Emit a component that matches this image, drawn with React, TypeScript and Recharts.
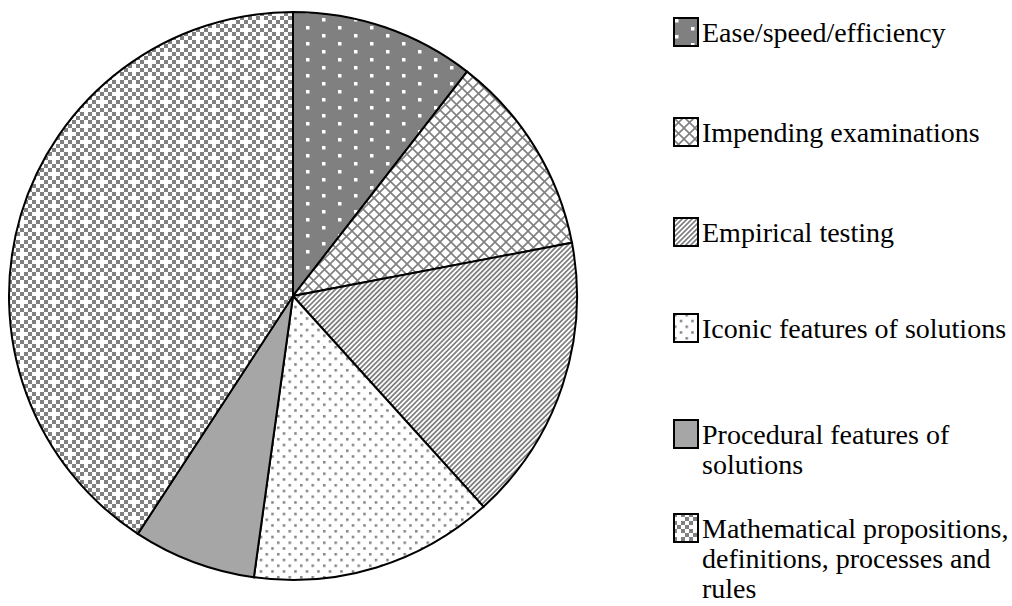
import { PieChart, Pie, Cell } from 'recharts';

const categories = [
  'Ease/speed/efficiency',
  'Impending examinations',
  'Empirical testing',
  'Iconic features of solutions',
  'Procedural features of solutions',
  'Mathematical propositions, definitions, processes and rules',
];
const shares = [10.5, 11.5, 16.3, 13.9, 7.0, 40.8];
const fills = ['url(#pEase)', 'url(#pExam)', 'url(#pEmp)', 'url(#pIcon)', '#a6a6a6', 'url(#pMath)'];

const data = categories.map((name, i) => ({ name, value: shares[i] }));

// legend square tops (px)
const legendTops = [17, 117, 217, 313, 419, 513];

const GRAY = '#808080';

function Patterns() {
  const checker: JSX.Element[] = [];
  for (let i = 0; i < 8; i++) {
    for (let j = 0; j < 4; j++) {
      if ((i + j) % 2 !== 0) continue;
      if ((i === 1 && j === 1) || (i === 5 && j === 3)) continue;
      checker.push(<rect key={`${i}-${j}`} x={i * 4} y={j * 4} width={4} height={4} fill={GRAY} />);
    }
  }
  return (
    <defs>
      <pattern id="pEase" width={32} height={16} patternUnits="userSpaceOnUse">
        <rect width={32} height={16} fill={GRAY} />
        <rect x={2} y={2} width={3.5} height={3.5} fill="#fff" />
        <rect x={18} y={10} width={3.5} height={3.5} fill="#fff" />
      </pattern>
      <pattern id="pExam" width={11} height={11} patternUnits="userSpaceOnUse">
        <rect width={11} height={11} fill="#fff" />
        <path d="M-1 -1L12 12M12 -1L-1 12" stroke={GRAY} strokeWidth={1.6} />
      </pattern>
      <pattern id="pEmp" width={3.5} height={4} patternUnits="userSpaceOnUse" patternTransform="rotate(45)">
        <rect width={3.5} height={4} fill="#fff" />
        <rect width={1.75} height={4} fill={GRAY} />
      </pattern>
      <pattern id="pIcon" width={11.5} height={11.5} patternUnits="userSpaceOnUse">
        <rect width={11.5} height={11.5} fill="#fff" />
        <rect x={1} y={1} width={2.5} height={2.5} fill={GRAY} />
        <rect x={6.75} y={6.75} width={2.5} height={2.5} fill={GRAY} />
      </pattern>
      <pattern id="pMath" width={32} height={16} patternUnits="userSpaceOnUse">
        <rect width={32} height={16} fill="#fff" />
        {checker}
      </pattern>
    </defs>
  );
}

export default function App() {
  return (
    <div
      style={{
        position: 'absolute',
        left: 0,
        top: 0,
        width: 1012,
        height: 606,
        overflow: 'hidden',
        background: '#fff',
        fontFamily: '"Liberation Serif", "Times New Roman", serif',
      }}
    >
      <PieChart width={1012} height={606} margin={{ top: 0, right: 0, bottom: 0, left: 0 }}>
        <Patterns />
        <Pie
          data={data}
          dataKey="value"
          nameKey="name"
          cx={293}
          cy={296}
          outerRadius={284}
          startAngle={90}
          endAngle={-270}
          stroke="#000"
          strokeWidth={2}
          isAnimationActive={false}
        >
          {data.map((d, i) => (
            <Cell key={d.name} fill={fills[i]} />
          ))}
        </Pie>
      </PieChart>
      {data.map((d, i) => (
        <div
          key={d.name}
          style={{ position: 'absolute', left: 673, top: legendTops[i], display: 'flex', alignItems: 'flex-start' }}
        >
          <svg width={26} height={30} style={{ display: 'block', flex: 'none' }}>
            <rect x={1} y={1} width={24} height={28} fill={fills[i]} stroke="#000" strokeWidth={2} />
          </svg>
          <div style={{ marginLeft: 3, marginTop: 1, width: 312, fontSize: 28, lineHeight: '30px', color: '#000' }}>
            {d.name}
          </div>
        </div>
      ))}
    </div>
  );
}
